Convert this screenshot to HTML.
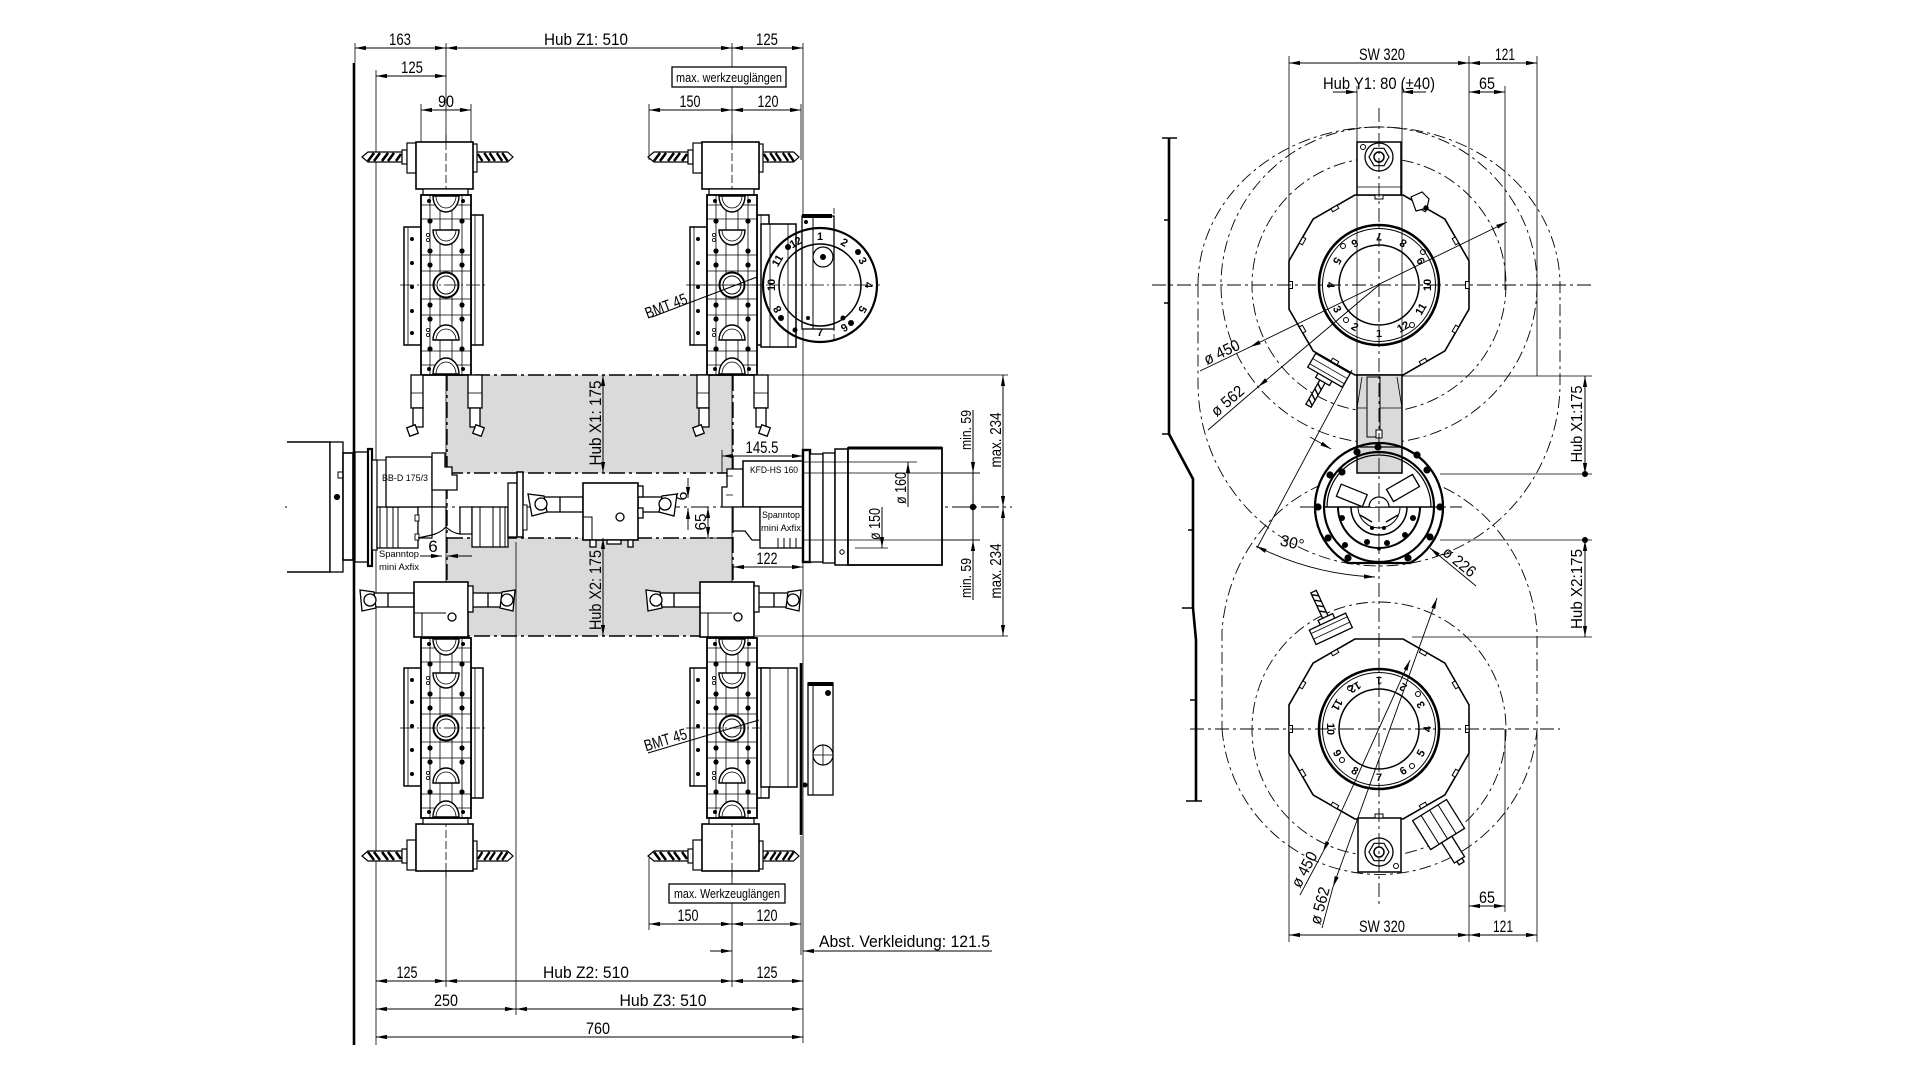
<!DOCTYPE html>
<html><head><meta charset="utf-8"><title>Technical drawing</title>
<style>
html,body{margin:0;padding:0;background:#fff;overflow:hidden}
svg{display:block}
text{font-family:"Liberation Sans",sans-serif;fill:#000;stroke:none}
.d{font-size:17px}
.n{font-size:11px;font-weight:bold}
.sm{font-size:9.5px}
</style></head><body>
<svg xmlns="http://www.w3.org/2000/svg" width="1920" height="1080" viewBox="0 0 1920 1080">
<defs>
<marker id="ar" viewBox="0 0 11 6" refX="11" refY="3" markerWidth="11" markerHeight="6" markerUnits="userSpaceOnUse" orient="auto-start-reverse"><path d="M0,0.9 L11,3 L0,5.1 Z" fill="#000"/></marker>
<g id="drill">
<path d="M0,0 L6,-5 L40,-5 L40,5 L6,5 Z" fill="#fff" stroke="#000" stroke-width="1.2"/>
<path d="M6,4 L12,-4 M12,4 L18,-4 M20,4 L26,-4 M26,4 L32,-4 M34,4 L39,-3" stroke="#000" stroke-width="2.6" fill="none"/>
</g>
<g id="notch"><rect x="1375.5" y="195" width="7" height="3.5" fill="#fff" stroke="#000" stroke-width="1"/></g>
<g id="vdi" stroke="#000" fill="none">
<line x1="0" y1="-150" x2="0" y2="92" stroke-width="0.8" stroke-dasharray="14 3 2 3"/>
<use href="#drill" x="-84" y="-128"/>
<use href="#drill" transform="translate(67,-128) scale(-0.9,1)"/>
<rect x="-44" y="-135" width="5" height="14" fill="#fff" stroke-width="1.2"/>
<rect x="-39" y="-142" width="9" height="30" fill="#fff" stroke-width="1.2"/>
<rect x="27" y="-141" width="4" height="28" fill="#fff" stroke-width="1.2"/>
<rect x="-30" y="-143" width="57" height="47" fill="#fff" stroke-width="1.6"/>
<line x1="0" y1="-143" x2="0" y2="-96" stroke-width="0.8" stroke-dasharray="8 3"/>
<rect x="-23" y="-96" width="45" height="6" fill="#fff" stroke-width="1.2"/>
<rect x="-42" y="-58" width="17" height="118" fill="#fff" stroke-width="1.5"/>
<line x1="-38" y1="-58" x2="-38" y2="60" stroke-width="0.8"/>
<rect x="25" y="-70" width="12" height="130" fill="#fff" stroke-width="1.5"/>
<line x1="29" y1="-70" x2="29" y2="60" stroke-width="0.8"/>
<rect x="-25" y="-90" width="50" height="180" fill="#fff" stroke-width="1.8"/>
<path d="M-16,-90 V90 M16,-90 V90 M-6,-90 V90 M6,-90 V90" stroke-width="0.8"/>
<path d="M-25,-80 H25 M-25,-66 H25 M-25,-30 H25 M-25,-14 H25 M-25,14 H25 M-25,30 H25 M-25,66 H25 M-25,80 H25" stroke-width="0.8"/>
<path d="M-13,-55 H13 A13,15 0 0 1 -13,-55 Z" fill="#fff" stroke-width="1.4"/>
<path d="M-10,-55 H10 A10,11 0 0 1 -10,-55" stroke-width="0.8"/>
<path d="M-13,55 H13 A13,15 0 0 0 -13,55 Z" fill="#fff" stroke-width="1.4"/>
<path d="M-10,55 H10 A10,11 0 0 0 -10,55" stroke-width="0.8"/>
<path d="M-13,-89 H13 A13,16 0 0 1 -13,-89 Z" fill="#fff" stroke-width="1.4"/>
<path d="M-10,-89 H10 A10,12 0 0 1 -10,-89" stroke-width="0.8"/>
<path d="M-13,89 H13 A13,16 0 0 0 -13,89 Z" fill="#fff" stroke-width="1.4"/>
<path d="M-10,89 H10 A10,12 0 0 0 -10,89" stroke-width="0.8"/>
<circle r="12.5" fill="#fff" stroke-width="2"/>
<circle r="9" stroke-width="1"/>
<g fill="#000" stroke="none">
<circle cx="-16" cy="-64" r="2.6"/><circle cx="16" cy="-64" r="2.6"/>
<circle cx="-16" cy="-34" r="2.6"/><circle cx="16" cy="-34" r="2.6"/>
<circle cx="-16" cy="-20" r="2.6"/><circle cx="16" cy="-20" r="2.6"/>
<circle cx="-16" cy="20" r="2.6"/><circle cx="16" cy="20" r="2.6"/>
<circle cx="-16" cy="34" r="2.6"/><circle cx="16" cy="34" r="2.6"/>
<circle cx="-16" cy="64" r="2.6"/><circle cx="16" cy="64" r="2.6"/>
<circle cx="-17" cy="-84" r="2"/><circle cx="17" cy="-84" r="2"/>
<circle cx="-17" cy="84" r="2"/><circle cx="17" cy="84" r="2"/>
<circle cx="-34" cy="-46" r="2"/><circle cx="-34" cy="-22" r="2"/><circle cx="-34" cy="2" r="2"/><circle cx="-34" cy="26" r="2"/><circle cx="-34" cy="48" r="2"/>
</g>
<g fill="none" stroke-width="0.8">
<circle cx="-18" cy="-50" r="1.6"/><circle cx="-18" cy="-45" r="1.6"/><circle cx="-18" cy="45" r="1.6"/><circle cx="-18" cy="50" r="1.6"/>
</g>
<line x1="-46" y1="0" x2="42" y2="0" stroke-width="0.8" stroke-dasharray="14 3 2 3"/>
</g>
<g id="hold" stroke="#000" fill="#fff" stroke-width="1.3">
<rect x="-35" y="375" width="12" height="33"/>
<rect x="-33" y="408" width="10" height="19"/>
<rect x="22" y="375" width="14" height="33"/>
<rect x="24" y="408" width="10" height="19"/>
<line x1="-35" y1="393" x2="-23" y2="393" stroke-width="0.8"/>
<line x1="22" y1="393" x2="36" y2="393" stroke-width="0.8"/>
<rect x="-38" y="426" width="9" height="9" transform="rotate(-20 -33.5 430.5)"/>
<rect x="28" y="426" width="9" height="9" transform="rotate(20 32.5 430.5)"/>
</g>
<g id="bore" stroke="#000" fill="#fff" stroke-width="1.3">
<rect x="-84" y="593" width="52" height="14"/>
<path d="M-86,590 L-72,592 L-70,608 L-84,611 Z"/>
<ellipse cx="-76" cy="600" rx="6" ry="6"/>
<line x1="-58" y1="593" x2="-58" y2="607"/>
<rect x="22" y="593" width="45" height="14"/>
<path d="M69,590 L56,592 L54,608 L67,611 Z"/>
<ellipse cx="61" cy="600" rx="6" ry="6"/>
<line x1="42" y1="593" x2="42" y2="607"/>
<rect x="-32" y="582" width="54" height="55" stroke-width="1.6"/>
<path d="M-32,613 H0 M-24,613 V637" fill="none" stroke-width="1"/>
<rect x="22" y="586" width="5" height="26"/>
<circle cx="6" cy="617" r="4"/>
</g>
</defs>

<!-- ================= LEFT DRAWING ================= -->
<rect x="447" y="375" width="286" height="98" fill="#dadada"/>
<rect x="447" y="538" width="286" height="98" fill="#dadada"/>

<g stroke="#000" stroke-width="0.8" fill="none">
<path d="M355,43 V63 M376,70 V1045 M446,43 V987 M732,43 V987 M803,43 V1043 M421,104 V142 M471,104 V142 M649,104 V160 M801,104 V160 M516,542 V1015 M649,858 V930 M801,836 V955 M722,450 V473"/>
<path d="M767,375 H1008 M755,636 H1008 M803,473 H980 M803,540 H980 M803,462 H917 M855,548 H888 M690,538 H733"/>
</g>
<path d="M447,375 H733 M447,473 H733 M447,538 H733 M447,636 H733 M447,375 V636 M733,375 V636" stroke="#000" stroke-width="1.4" fill="none" stroke-dasharray="16 4 3 4"/>
<line x1="285" y1="507" x2="1012" y2="507" stroke="#000" stroke-width="0.9" stroke-dasharray="18 4 3 4"/>

<g stroke="#000" stroke-width="1" marker-start="url(#ar)" marker-end="url(#ar)">
<line x1="355" y1="48" x2="446" y2="48"/>
<line x1="446" y1="48" x2="732" y2="48"/>
<line x1="732" y1="48" x2="803" y2="48"/>
<line x1="376" y1="76" x2="446" y2="76"/>
<line x1="421" y1="110" x2="471" y2="110"/>
<line x1="649" y1="110" x2="732" y2="110"/>
<line x1="732" y1="110" x2="801" y2="110"/>
</g>
<g class="d" text-anchor="middle">
<text x="400" y="45" textLength="22" lengthAdjust="spacingAndGlyphs">163</text>
<text x="586" y="45" textLength="84" lengthAdjust="spacingAndGlyphs">Hub Z1:  510</text>
<text x="767" y="45" textLength="22" lengthAdjust="spacingAndGlyphs">125</text>
<text x="412" y="73" textLength="22" lengthAdjust="spacingAndGlyphs">125</text>
<text x="446" y="107" textLength="16" lengthAdjust="spacingAndGlyphs">90</text>
<text x="690" y="107" textLength="21" lengthAdjust="spacingAndGlyphs">150</text>
<text x="768" y="107" textLength="21" lengthAdjust="spacingAndGlyphs">120</text>
</g>
<rect x="672" y="67" width="114" height="20" fill="#fff" stroke="#000" stroke-width="1.3"/>
<text x="729" y="82" font-size="12.5" text-anchor="middle" textLength="106" lengthAdjust="spacingAndGlyphs">max. werkzeuglängen</text>

<use href="#vdi" transform="translate(446,285)"/>
<use href="#vdi" transform="translate(732,285)"/>
<use href="#vdi" transform="translate(446,728) scale(1,-1)"/>
<use href="#vdi" transform="translate(732,728) scale(1,-1)"/>

<g stroke="#000" fill="#fff">
<rect x="761" y="224" width="35" height="123" stroke-width="1.5"/>
<path d="M770,224 V347 M788,224 V347" stroke-width="0.8" fill="none"/>
<rect x="802" y="216" width="32" height="113" stroke-width="1.3"/>
<line x1="813" y1="216" x2="813" y2="329" stroke-width="1"/>
<rect x="802" y="214" width="30" height="4" fill="#000" stroke="none"/>
<line x1="834" y1="208" x2="834" y2="342" stroke-width="0.8" stroke-dasharray="6 3" fill="none"/>
<line x1="700" y1="285" x2="880" y2="285" stroke-width="0.8" stroke-dasharray="14 3 2 3" fill="none"/>
<circle cx="820" cy="285" r="57" fill="none" stroke-width="2.2"/>
<circle cx="820" cy="285" r="41" fill="none" stroke-width="1.5"/>
<circle cx="823" cy="257" r="10" stroke-width="1.2"/>
<circle cx="823" cy="257" r="2.5" fill="#000"/>
<g fill="#000" stroke="none">
<circle cx="788" cy="247" r="3"/><circle cx="858" cy="252" r="3"/><circle cx="781" cy="318" r="3"/><circle cx="851" cy="323" r="3"/><circle cx="795" cy="330" r="2.5"/><circle cx="843" cy="318" r="2.5"/><circle cx="806" cy="222" r="2"/><circle cx="808" cy="318" r="2"/>
</g>
</g>
<g class="n" text-anchor="middle" dominant-baseline="central">
<text transform="translate(820,237)">1</text>
<text transform="translate(844,243) rotate(30)">2</text>
<text transform="translate(862,261) rotate(60)">3</text>
<text transform="translate(868,285) rotate(90)">4</text>
<text transform="translate(862,309) rotate(120)">5</text>
<text transform="translate(844,327) rotate(150)">6</text>
<text transform="translate(820,333)">7</text>
<text transform="translate(778,309) rotate(240)">8</text>
<text transform="translate(772,285) rotate(270)">10</text>
<text transform="translate(778,261) rotate(300)">11</text>
<text transform="translate(796,243) rotate(330)">12</text>
</g>

<g stroke="#000" fill="#fff">
<rect x="761" y="668" width="36" height="119" stroke-width="1.5"/>
<path d="M770,668 V787 M788,668 V787" stroke-width="0.8" fill="none"/>
<rect x="808" y="683" width="25" height="112" stroke-width="1.3"/>
<line x1="813" y1="683" x2="813" y2="795" stroke-width="1"/>
<rect x="808" y="682" width="25" height="4" fill="#000" stroke="none"/>
<circle cx="823" cy="755" r="10" stroke-width="1.2"/>
<path d="M813,755 H833 M823,745 V765" stroke-width="0.8"/>
<circle cx="828" cy="693" r="2.5" fill="#000"/>
<circle cx="805" cy="785" r="2" fill="#000"/>
</g>
<line x1="801" y1="663" x2="801" y2="835" stroke="#000" stroke-width="2.6"/>

<line x1="652" y1="317" x2="757" y2="277" stroke="#000" stroke-width="1"/>
<text transform="translate(668,311) rotate(-21)" font-size="16" text-anchor="middle" textLength="44" lengthAdjust="spacingAndGlyphs">BMT 45</text>
<line x1="648" y1="753" x2="759" y2="720" stroke="#000" stroke-width="1"/>
<text transform="translate(667,745) rotate(-17)" font-size="16" text-anchor="middle" textLength="44" lengthAdjust="spacingAndGlyphs">BMT 45</text>

<use href="#hold" transform="translate(446,0)"/>
<use href="#hold" transform="translate(732,0)"/>
<use href="#bore" transform="translate(446,0)"/>
<use href="#bore" transform="translate(732,0)"/>

<g stroke="#000" fill="#fff">
<path d="M287,442 H330 V572 H287" stroke-width="1.5"/>
<rect x="330" y="442" width="13" height="130" stroke-width="1.3"/>
<circle cx="337" cy="497" r="2.6" fill="#000"/>
<rect x="338" y="472" width="5" height="6" stroke-width="1"/>
<rect x="343" y="453" width="10" height="107" stroke-width="1.6"/>
<rect x="355" y="452" width="13" height="110" stroke-width="1.3"/>
<rect x="368" y="449" width="4" height="117" stroke-width="2.2"/>
<rect x="372" y="460" width="5" height="90" stroke-width="1.2"/>
<rect x="377" y="507" width="41" height="41" stroke-width="1.3"/>
<path d="M380,507 V548 M387,507 V548 M393,507 V548 M398,507 V548" stroke-width="1" fill="none"/>
<rect x="386" y="457" width="46" height="50" stroke-width="1.3"/>
<path d="M377,460 H386 M377,507 H386" stroke-width="1" fill="none"/>
<rect x="418" y="507" width="14" height="31" stroke-width="1.2"/>
<rect x="415" y="515" width="4" height="6" stroke-width="0.9"/>
<rect x="415" y="534" width="4" height="6" stroke-width="0.9"/>
<path d="M432,453 H445 V467 H452 V475 H457 V490 H432 Z" stroke-width="1.3"/>
<path d="M418,538 L432,535 Q440,533 446,527 V507 H432" stroke-width="1.2" fill="none"/>
<path d="M446,527 Q452,533 460,534 V507" stroke-width="1.2" fill="none"/>
<rect x="460" y="507" width="12" height="27" stroke-width="1.2"/>
<rect x="472" y="507" width="36" height="40" stroke-width="1.3"/>
<path d="M480,507 V547 M493,507 V547 M500,507 V547 M505,507 V547" stroke-width="1" fill="none"/>
<rect x="508" y="483" width="9" height="54" stroke-width="1.3"/>
<rect x="517" y="472" width="6" height="65" stroke-width="1.5"/>
<rect x="523" y="505" width="4" height="25" stroke-width="1"/>
</g>
<text x="405" y="481" class="sm" text-anchor="middle" textLength="46" lengthAdjust="spacingAndGlyphs">BB-D 175/3</text>
<text x="379" y="557" class="sm" textLength="40" lengthAdjust="spacingAndGlyphs">Spanntop</text>
<text x="379" y="570" class="sm" textLength="40" lengthAdjust="spacingAndGlyphs">mini Axfix</text>
<line x1="420" y1="556" x2="442" y2="556" stroke="#000" stroke-width="0.9" marker-end="url(#ar)"/>
<line x1="472" y1="556" x2="447" y2="556" stroke="#000" stroke-width="0.9" marker-end="url(#ar)"/>
<text x="433" y="552" class="d" text-anchor="middle">6</text>

<g stroke="#000" fill="#fff" stroke-width="1.3">
<rect x="532" y="497" width="51" height="15"/>
<path d="M528,494 L544,496 L547,512 L532,516 Z"/>
<ellipse cx="541" cy="504" rx="6" ry="6"/>
<line x1="560" y1="497" x2="560" y2="512"/>
<rect x="638" y="497" width="35" height="15"/>
<path d="M677,494 L662,496 L659,512 L674,516 Z"/>
<ellipse cx="665" cy="504" rx="6" ry="6"/>
<rect x="583" y="483" width="55" height="57" stroke-width="1.6"/>
<path d="M583,517 H592 V540" fill="none" stroke-width="1"/>
<rect x="638" y="486" width="5" height="11"/>
<rect x="638" y="508" width="5" height="10"/>
<rect x="590" y="540" width="6" height="7"/>
<rect x="607" y="540" width="14" height="4"/>
<rect x="628" y="540" width="5" height="7"/>
<circle cx="620" cy="517" r="4"/>
</g>
<line x1="688" y1="478" x2="688" y2="498" stroke="#000" stroke-width="0.9" marker-end="url(#ar)"/>
<line x1="688" y1="530" x2="688" y2="508" stroke="#000" stroke-width="0.9" marker-end="url(#ar)"/>
<line x1="708" y1="507" x2="708" y2="538" stroke="#000" stroke-width="0.9" marker-start="url(#ar)" marker-end="url(#ar)"/>
<text transform="translate(687,496) rotate(-90)" font-size="16" text-anchor="middle">6</text>
<text transform="translate(706,522) rotate(-90)" font-size="16" text-anchor="middle" textLength="17" lengthAdjust="spacingAndGlyphs">65</text>

<g stroke="#000" fill="#fff">
<path d="M727,469 H743 V507 H722 V487 H727 Z" stroke-width="1.3"/>
<path d="M726,476 H733 M726,495 H733" stroke-width="0.8" fill="none"/>
<rect x="743" y="461" width="60" height="46" stroke-width="1.5"/>
<path d="M733,507 H760 V540 H752 L745,531 H733 Z" stroke-width="1.3"/>
<rect x="760" y="507" width="43" height="41" stroke-width="1.3"/>
<path d="M778,538 V548 M784,538 V548 M790,538 V548 M796,538 V548" stroke-width="1" fill="none"/>
<rect x="803" y="450" width="7" height="112" stroke-width="2.4"/>
<rect x="810" y="454" width="13" height="108" stroke-width="1.3"/>
<rect x="823" y="453" width="12" height="110" stroke-width="1.3"/>
<rect x="835" y="449" width="13" height="116" stroke-width="1.5"/>
<rect x="848" y="448" width="94" height="117" stroke-width="1.8"/>
<line x1="848" y1="448" x2="942" y2="448" stroke-width="3"/>
<circle cx="842" cy="552" r="2.2"/>
</g>
<g stroke="#000" stroke-width="0.8" fill="none">
<path d="M803,462 H917 M803,473 H980 M803,540 H980 M855,548 H888"/>
</g>
<text x="750" y="473" class="sm" textLength="48" lengthAdjust="spacingAndGlyphs">KFD-HS 160</text>
<text x="762" y="518" class="sm" textLength="38" lengthAdjust="spacingAndGlyphs">Spanntop</text>
<text x="761" y="531" class="sm" textLength="40" lengthAdjust="spacingAndGlyphs">mini Axfix</text>

<g stroke="#000" stroke-width="1">
<line x1="722" y1="456" x2="803" y2="456" marker-start="url(#ar)" marker-end="url(#ar)"/>
<line x1="733" y1="567" x2="803" y2="567" marker-start="url(#ar)" marker-end="url(#ar)"/>
<line x1="908" y1="507" x2="908" y2="462" marker-end="url(#ar)"/>
<line x1="882" y1="507" x2="882" y2="548" marker-end="url(#ar)"/>
<line x1="973" y1="410" x2="973" y2="473" marker-end="url(#ar)"/>
<line x1="973" y1="473" x2="973" y2="540"/>
<line x1="973" y1="600" x2="973" y2="540" marker-end="url(#ar)"/>
<line x1="1003" y1="375" x2="1003" y2="507" marker-start="url(#ar)" marker-end="url(#ar)"/>
<line x1="1003" y1="507" x2="1003" y2="636" marker-start="url(#ar)" marker-end="url(#ar)"/>
<line x1="603" y1="375" x2="603" y2="473" marker-start="url(#ar)" marker-end="url(#ar)"/>
<line x1="603" y1="538" x2="603" y2="636" marker-start="url(#ar)" marker-end="url(#ar)"/>
</g>
<circle cx="973" cy="507" r="3.2" fill="#000"/>
<text x="762" y="453" class="d" text-anchor="middle" textLength="33" lengthAdjust="spacingAndGlyphs">145.5</text>
<text x="767" y="564" class="d" text-anchor="middle" textLength="21" lengthAdjust="spacingAndGlyphs">122</text>
<text transform="translate(906,488) rotate(-90)" font-size="16" text-anchor="middle" textLength="32" lengthAdjust="spacingAndGlyphs">ø 160</text>
<text transform="translate(880,524) rotate(-90)" font-size="16" text-anchor="middle" textLength="32" lengthAdjust="spacingAndGlyphs">ø 150</text>
<text transform="translate(971,430) rotate(-90)" font-size="15" text-anchor="middle" textLength="40" lengthAdjust="spacingAndGlyphs">min. 59</text>
<text transform="translate(971,578) rotate(-90)" font-size="15" text-anchor="middle" textLength="40" lengthAdjust="spacingAndGlyphs">min. 59</text>
<text transform="translate(1001,440) rotate(-90)" font-size="16" text-anchor="middle" textLength="55" lengthAdjust="spacingAndGlyphs">max. 234</text>
<text transform="translate(1001,571) rotate(-90)" font-size="16" text-anchor="middle" textLength="55" lengthAdjust="spacingAndGlyphs">max. 234</text>
<text transform="translate(601,423) rotate(-90)" class="d" text-anchor="middle" textLength="85" lengthAdjust="spacingAndGlyphs">Hub X1:  175</text>
<text transform="translate(601,590) rotate(-90)" class="d" text-anchor="middle" textLength="80" lengthAdjust="spacingAndGlyphs">Hub X2: 175</text>

<g stroke="#000" stroke-width="1" marker-start="url(#ar)" marker-end="url(#ar)">
<line x1="649" y1="924" x2="732" y2="924"/>
<line x1="732" y1="924" x2="801" y2="924"/>
<line x1="376" y1="981" x2="446" y2="981"/>
<line x1="446" y1="981" x2="732" y2="981"/>
<line x1="732" y1="981" x2="803" y2="981"/>
<line x1="376" y1="1009" x2="516" y2="1009"/>
<line x1="516" y1="1009" x2="803" y2="1009"/>
<line x1="376" y1="1037" x2="803" y2="1037"/>
</g>
<line x1="710" y1="951" x2="732" y2="951" stroke="#000" stroke-width="1" marker-end="url(#ar)"/>
<line x1="992" y1="951" x2="803" y2="951" stroke="#000" stroke-width="1" marker-end="url(#ar)"/>
<rect x="669" y="884" width="116" height="19" fill="#fff" stroke="#000" stroke-width="1.3"/>
<text x="727" y="898" font-size="12.5" text-anchor="middle" textLength="106" lengthAdjust="spacingAndGlyphs">max. Werkzeuglängen</text>
<g class="d" text-anchor="middle">
<text x="688" y="921" textLength="21" lengthAdjust="spacingAndGlyphs">150</text>
<text x="767" y="921" textLength="21" lengthAdjust="spacingAndGlyphs">120</text>
<text x="407" y="978" textLength="21" lengthAdjust="spacingAndGlyphs">125</text>
<text x="586" y="978" textLength="86" lengthAdjust="spacingAndGlyphs">Hub Z2:  510</text>
<text x="767" y="978" textLength="21" lengthAdjust="spacingAndGlyphs">125</text>
<text x="446" y="1006" textLength="24" lengthAdjust="spacingAndGlyphs">250</text>
<text x="663" y="1006" textLength="87" lengthAdjust="spacingAndGlyphs">Hub Z3:  510</text>
<text x="598" y="1034" textLength="24" lengthAdjust="spacingAndGlyphs">760</text>
</g>
<text x="819" y="947" class="d" textLength="171" lengthAdjust="spacingAndGlyphs">Abst. Verkleidung: 121.5</text>

<line x1="354" y1="63" x2="354" y2="1045" stroke="#000" stroke-width="2.6"/>

<!-- ================= RIGHT DRAWING ================= -->
<g stroke="#000" stroke-width="0.9" fill="none" stroke-dasharray="12 4 3 4">
<path d="M1198,285 A181,158 0 0 1 1560,285 L1560,383 A181,183 0 0 1 1198,383 Z"/>
<circle cx="1379" cy="285" r="158"/>
<circle cx="1379" cy="285" r="127"/>
<path d="M1222,729 A158,158 0 0 0 1537,729 L1537,631 A158,172 0 0 0 1222,631 Z"/>
<circle cx="1379" cy="729" r="127"/>
</g>

<g stroke="#000" fill="none">
<polyline points="1169,138 1169,434 1193,479 1193,608 1196,640 1196,801" stroke-width="2.6"/>
<path d="M1162,138 H1177 M1162,434 H1169 M1182,608 H1193 M1186,801 H1202 M1164,220 H1169 M1164,303 H1169 M1188,530 H1193 M1190,700 H1196" stroke-width="1.5"/>
</g>

<!-- top turret -->
<g stroke="#000">
<polygon points="1469,260.9 1444.9,219.1 1403.1,195 1354.9,195 1313.1,219.1 1289,260.9 1289,309.1 1313.1,350.9 1354.9,375 1403.1,375 1444.9,350.9 1469,309.1" fill="#fff" stroke-width="1.6"/>
<use href="#notch" transform="rotate(-30 1379 285)"/>
<use href="#notch" transform="rotate(-60 1379 285)"/>
<use href="#notch" transform="rotate(-120 1379 285)"/>
<use href="#notch" transform="rotate(-150 1379 285)"/>
<use href="#notch" transform="rotate(30 1379 285)"/>
<use href="#notch" transform="rotate(60 1379 285)"/>
<use href="#notch" transform="rotate(120 1379 285)"/>
<use href="#notch" transform="rotate(150 1379 285)"/>
<use href="#notch" transform="rotate(90 1379 285)"/>
<use href="#notch" transform="rotate(-90 1379 285)"/>
<path d="M1411,197 L1422,192 L1429,199 L1427,208 L1416,211 Z" fill="#fff" stroke-width="1.2"/>
<circle cx="1426" cy="208" r="2.2" fill="#000"/>
<rect x="1357" y="142" width="44" height="53" fill="#fff" stroke-width="1.5"/>
<line x1="1357" y1="187" x2="1401" y2="187" stroke-width="0.8"/>
<rect x="1375" y="195" width="8" height="4" fill="#fff" stroke-width="1"/>
<circle cx="1379" cy="157" r="14" fill="#fff" stroke-width="1.3"/>
<polygon points="1389,157 1384,165.7 1374,165.7 1369,157 1374,148.3 1384,148.3" fill="none" stroke-width="1.2"/>
<circle cx="1379" cy="157" r="5" fill="none" stroke-width="1.5"/>
<circle cx="1363" cy="147" r="2.5" fill="#fff" stroke-width="1"/>
<circle cx="1379" cy="285" r="60" fill="#fff" stroke-width="2.6"/>
<circle cx="1379" cy="285" r="56.5" fill="none" stroke-width="1"/>
<circle cx="1379" cy="285" r="40" fill="none" stroke-width="1.5"/>
<g fill="none" stroke-width="1">
<circle cx="1343" cy="246" r="2.5"/><circle cx="1423" cy="252" r="2.5"/><circle cx="1346" cy="320" r="2.5"/><circle cx="1412" cy="325" r="2.5"/>
</g>
<g transform="translate(1328,372) rotate(30)" fill="#fff" stroke-width="1.3">
<rect x="-3" y="9" width="6" height="30"/>
<path d="M-3,15 L3,19 M-3,21 L3,25 M-3,27 L3,31 M-3,33 L3,37" stroke-width="1.4" fill="none"/>
<rect x="-8" y="5" width="16" height="6"/>
<rect x="-20" y="-10" width="40" height="16"/>
<path d="M-20,-4 H20 M-20,2 H20" stroke-width="0.8" fill="none"/>
</g>
</g>

<!-- bottom turret -->
<g stroke="#000">
<polygon points="1469,704.9 1444.9,663.1 1403.1,639 1354.9,639 1313.1,663.1 1289,704.9 1289,753.1 1313.1,794.9 1354.9,819 1403.1,819 1444.9,794.9 1469,753.1" fill="#fff" stroke-width="1.6"/>
<g transform="translate(0,444)">
<use href="#notch" transform="rotate(-30 1379 285)"/>
<use href="#notch" transform="rotate(-60 1379 285)"/>
<use href="#notch" transform="rotate(-120 1379 285)"/>
<use href="#notch" transform="rotate(-150 1379 285)"/>
<use href="#notch" transform="rotate(30 1379 285)"/>
<use href="#notch" transform="rotate(60 1379 285)"/>
<use href="#notch" transform="rotate(120 1379 285)"/>
<use href="#notch" transform="rotate(150 1379 285)"/>
<use href="#notch" transform="rotate(90 1379 285)"/>
<use href="#notch" transform="rotate(-90 1379 285)"/>
</g>
<rect x="1358" y="818" width="43" height="54" fill="#fff" stroke-width="1.5"/>
<rect x="1375" y="814" width="8" height="4" fill="#fff" stroke-width="1"/>
<circle cx="1379" cy="852" r="14" fill="#fff" stroke-width="1.3"/>
<polygon points="1389,852 1384,860.7 1374,860.7 1369,852 1374,843.3 1384,843.3" fill="none" stroke-width="1.2"/>
<circle cx="1379" cy="852" r="5" fill="none" stroke-width="1.5"/>
<circle cx="1396" cy="866" r="2.5" fill="#fff" stroke-width="1"/>
<circle cx="1379" cy="729" r="60" fill="#fff" stroke-width="2.6"/>
<circle cx="1379" cy="729" r="56.5" fill="none" stroke-width="1"/>
<circle cx="1379" cy="729" r="40" fill="none" stroke-width="1.5"/>
<g fill="none" stroke-width="1">
<circle cx="1418" cy="694" r="2.5"/><circle cx="1350" cy="688" r="2.5"/><circle cx="1342" cy="760" r="2.5"/><circle cx="1412" cy="766" r="2.5"/>
</g>
<g transform="translate(1330,627) rotate(155)" fill="#fff" stroke-width="1.3">
<rect x="-3" y="9" width="6" height="30"/>
<path d="M-3,15 L3,19 M-3,21 L3,25 M-3,27 L3,31 M-3,33 L3,37" stroke-width="1.4" fill="none"/>
<rect x="-8" y="5" width="16" height="6"/>
<rect x="-20" y="-10" width="40" height="16"/>
<path d="M-20,-4 H20 M-20,2 H20" stroke-width="0.8" fill="none"/>
</g>
<g transform="translate(1437,822) rotate(-32)" fill="#fff" stroke-width="1.3">
<rect x="-20" y="-14" width="40" height="34"/>
<path d="M-10,-14 V20 M0,-14 V20 M10,-14 V20" stroke-width="1" fill="none"/>
<rect x="-7" y="20" width="12" height="24"/>
<rect x="-4" y="44" width="6" height="4"/>
</g>
</g>

<!-- spindle (middle) -->
<g stroke="#000">
<path d="M1348,563 A64,64 0 1 1 1410,563 Z" fill="#fff" stroke-width="2"/>
<rect x="1357" y="375" width="45" height="98" fill="#dadada" stroke-width="1.5"/>
<rect x="1367" y="377" width="13" height="60" fill="none" stroke-width="1"/>
<path d="M1357,408 H1367 M1380,408 H1402 M1362,377 L1357,408 M1397,377 L1402,408" fill="none" stroke-width="0.8"/>
<rect x="1376" y="430" width="6" height="8" fill="#fff" stroke-width="1"/>
<line x1="1357" y1="447" x2="1402" y2="447" stroke-width="1.2"/>
<path d="M1348,563 A64,64 0 1 1 1410,563 Z" fill="none" stroke-width="2.2"/>
<circle cx="1379" cy="507" r="55" fill="none" stroke-width="2.2"/>
<path d="M1327,507 A52,52 0 0 1 1431,507" fill="none" stroke-width="1.2"/>
<path d="M1338,507 A41,41 0 0 0 1420,507" fill="none" stroke-width="2"/>
<path d="M1351,507 A28,28 0 0 0 1407,507" fill="none" stroke-width="1.5"/>
<path d="M1358,507 A21,21 0 0 0 1400,507" fill="none" stroke-width="1"/>
<line x1="1323" y1="507" x2="1435" y2="507" stroke-width="1.6"/>
<path d="M1369,507 A10,10 0 0 1 1389,507" fill="#fff" stroke-width="1.2"/>
<rect x="1338" y="489" width="28" height="13" transform="rotate(22 1352 495)" fill="#fff" stroke-width="1.3"/>
<rect x="1388" y="481" width="30" height="14" transform="rotate(-30 1403 488)" fill="#fff" stroke-width="1.3"/>
<path d="M1360,515 L1372,522 M1398,515 L1386,522" stroke-width="1.4" fill="none"/>
<g fill="#000" stroke="none">
<circle cx="1357" cy="452" r="3.6"/><circle cx="1378" cy="447" r="3.6"/><circle cx="1417" cy="455" r="3.6"/><circle cx="1427" cy="470" r="3.6"/>
<circle cx="1440" cy="507" r="3.6"/><circle cx="1430" cy="537" r="3.6"/><circle cx="1408" cy="558" r="3.6"/><circle cx="1348" cy="558" r="3.6"/>
<circle cx="1328" cy="538" r="3.6"/><circle cx="1318" cy="507" r="3.6"/><circle cx="1330" cy="475" r="3.6"/><circle cx="1342" cy="472" r="3.6"/>
<circle cx="1345" cy="545" r="3"/><circle cx="1367" cy="542" r="3"/><circle cx="1387" cy="543" r="3"/><circle cx="1405" cy="535" r="3"/><circle cx="1413" cy="518" r="3"/><circle cx="1342" cy="518" r="3"/>
<circle cx="1372" cy="528" r="2"/><circle cx="1384" cy="528" r="2"/><circle cx="1379" cy="549" r="1.8"/>
</g>
</g>

<g stroke="#000" stroke-width="0.9" fill="none" stroke-dasharray="14 4 3 4">
<line x1="1379" y1="108" x2="1379" y2="905"/>
<line x1="1152" y1="285" x2="1592" y2="285"/>
<line x1="1190" y1="729" x2="1560" y2="729"/>
<line x1="1300" y1="507" x2="1462" y2="507"/>
</g>
<g stroke="#000" stroke-width="0.8" fill="none">
<path d="M1289,56 V285 M1469,56 V285 M1505,86 V290 M1537,56 V376 M1357,86 V375 M1402,86 V375"/>
<path d="M1289,729 V942 M1469,729 V942 M1505,729 V912 M1537,729 V942"/>
<path d="M1402,376 H1592 M1440,474 H1592 M1440,540 H1592 M1412,637 H1592"/>
</g>

<g stroke="#000" stroke-width="0.9" fill="none">
<line x1="1250" y1="347" x2="1507" y2="222" marker-start="url(#ar)" marker-end="url(#ar)"/>
<line x1="1200" y1="371" x2="1250" y2="347"/>
<line x1="1379" y1="285" x2="1258" y2="387" marker-end="url(#ar)"/>
<line x1="1258" y1="387" x2="1208" y2="430"/>
<line x1="1352" y1="370" x2="1257" y2="548"/>
<path d="M1256,546 A292,292 0 0 0 1375,577" marker-start="url(#ar)" marker-end="url(#ar)"/>
<line x1="1310" y1="437" x2="1331" y2="449" marker-end="url(#ar)"/>
<line x1="1476" y1="586" x2="1430" y2="548" marker-end="url(#ar)"/>
<line x1="1410" y1="660" x2="1323" y2="852" marker-start="url(#ar)" marker-end="url(#ar)"/>
<line x1="1323" y1="852" x2="1300" y2="895"/>
<line x1="1437" y1="598" x2="1333" y2="887" marker-start="url(#ar)" marker-end="url(#ar)"/>
<line x1="1333" y1="887" x2="1322" y2="928"/>
</g>

<g stroke="#000" stroke-width="1">
<line x1="1289" y1="63" x2="1469" y2="63" marker-start="url(#ar)" marker-end="url(#ar)"/>
<line x1="1469" y1="63" x2="1537" y2="63" marker-start="url(#ar)" marker-end="url(#ar)"/>
<line x1="1333" y1="92" x2="1357" y2="92" marker-end="url(#ar)"/>
<line x1="1426" y1="92" x2="1402" y2="92" marker-end="url(#ar)"/>
<line x1="1469" y1="92" x2="1505" y2="92" marker-start="url(#ar)" marker-end="url(#ar)"/>
<line x1="1289" y1="935" x2="1469" y2="935" marker-start="url(#ar)" marker-end="url(#ar)"/>
<line x1="1469" y1="935" x2="1537" y2="935" marker-start="url(#ar)" marker-end="url(#ar)"/>
<line x1="1469" y1="906" x2="1505" y2="906" marker-start="url(#ar)" marker-end="url(#ar)"/>
<line x1="1585" y1="376" x2="1585" y2="474" marker-start="url(#ar)" marker-end="url(#ar)"/>
<line x1="1585" y1="540" x2="1585" y2="637" marker-start="url(#ar)" marker-end="url(#ar)"/>
</g>
<circle cx="1585" cy="474" r="3" fill="#000"/>
<circle cx="1585" cy="540" r="3" fill="#000"/>
<g class="d" text-anchor="middle">
<text x="1382" y="60" textLength="46" lengthAdjust="spacingAndGlyphs">SW 320</text>
<text x="1505" y="60" textLength="20" lengthAdjust="spacingAndGlyphs">121</text>
<text x="1379" y="89" textLength="112" lengthAdjust="spacingAndGlyphs">Hub Y1:  80 (±40)</text>
<text x="1487" y="89" textLength="16" lengthAdjust="spacingAndGlyphs">65</text>
<text x="1382" y="932" textLength="46" lengthAdjust="spacingAndGlyphs">SW 320</text>
<text x="1503" y="932" textLength="20" lengthAdjust="spacingAndGlyphs">121</text>
<text x="1487" y="903" textLength="16" lengthAdjust="spacingAndGlyphs">65</text>
</g>
<text transform="translate(1582,424) rotate(-90)" font-size="16" text-anchor="middle" textLength="77" lengthAdjust="spacingAndGlyphs">Hub X1:175</text>
<text transform="translate(1582,589) rotate(-90)" font-size="16" text-anchor="middle" textLength="80" lengthAdjust="spacingAndGlyphs">Hub X2:175</text>
<text transform="translate(1224,357) rotate(-25.6)" font-size="16" text-anchor="middle" textLength="38" lengthAdjust="spacingAndGlyphs">ø 450</text>
<text transform="translate(1231,405) rotate(-40.7)" font-size="16" text-anchor="middle" textLength="38" lengthAdjust="spacingAndGlyphs">ø 562</text>
<text transform="translate(1291,548) rotate(13)" font-size="16" text-anchor="middle" textLength="24" lengthAdjust="spacingAndGlyphs">30°</text>
<text transform="translate(1456,566) rotate(39.4)" font-size="16" text-anchor="middle" textLength="38" lengthAdjust="spacingAndGlyphs">ø 226</text>
<text transform="translate(1309,872) rotate(-62)" font-size="16" text-anchor="middle" textLength="38" lengthAdjust="spacingAndGlyphs">ø 450</text>
<text transform="translate(1325,907) rotate(-75)" font-size="16" text-anchor="middle" textLength="38" lengthAdjust="spacingAndGlyphs">ø 562</text>

<g class="n" text-anchor="middle" dominant-baseline="central">
<text transform="translate(1379,334)">1</text>
<text transform="translate(1354.5,327.4) rotate(30)">2</text>
<text transform="translate(1336.6,309.5) rotate(60)">3</text>
<text transform="translate(1330,285) rotate(90)">4</text>
<text transform="translate(1336.6,260.5) rotate(120)">5</text>
<text transform="translate(1354.5,242.6) rotate(150)">6</text>
<text transform="translate(1379,236) rotate(180)">7</text>
<text transform="translate(1403.5,242.6) rotate(210)">8</text>
<text transform="translate(1421.4,260.5) rotate(240)">9</text>
<text transform="translate(1428,285) rotate(270)">10</text>
<text transform="translate(1421.4,309.5) rotate(300)">11</text>
<text transform="translate(1403.5,327.4) rotate(330)">12</text>
<text transform="translate(1379,680) rotate(180)">1</text>
<text transform="translate(1403.5,686.6) rotate(210)">2</text>
<text transform="translate(1421.4,704.5) rotate(240)">3</text>
<text transform="translate(1428,729) rotate(270)">4</text>
<text transform="translate(1421.4,753.5) rotate(300)">5</text>
<text transform="translate(1403.5,771.4) rotate(330)">6</text>
<text transform="translate(1379,778)">7</text>
<text transform="translate(1354.5,771.4) rotate(30)">8</text>
<text transform="translate(1336.6,753.5) rotate(60)">9</text>
<text transform="translate(1330,729) rotate(90)">10</text>
<text transform="translate(1336.6,704.5) rotate(120)">11</text>
<text transform="translate(1354.5,686.6) rotate(150)">12</text>
</g>
</svg>
</body></html>
